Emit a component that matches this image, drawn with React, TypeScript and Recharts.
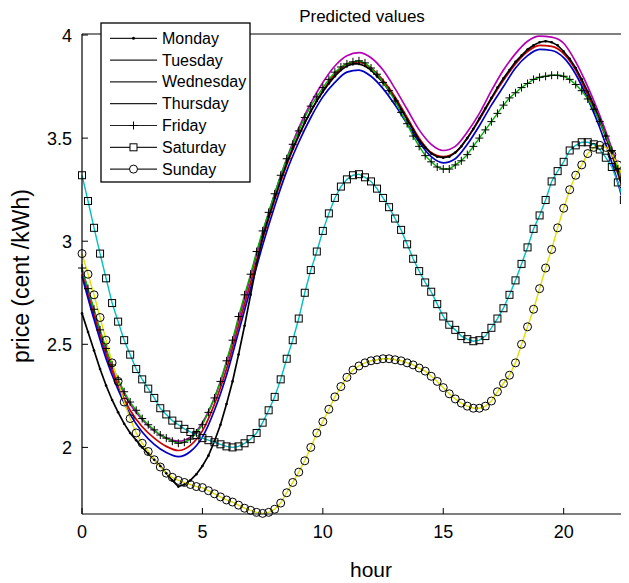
import React from "react";
import { LineChart, Line, XAxis, YAxis, Label } from "recharts";

// quarter-hour grid (series drawn with markers)
const hoursQ = [
  0, 0.25, 0.5, 0.75, 1, 1.25, 1.5, 1.75, 2, 2.25, 2.5, 2.75, 3, 3.25, 3.5, 3.75,
  4, 4.25, 4.5, 4.75, 5, 5.25, 5.5, 5.75, 6, 6.25, 6.5, 6.75, 7, 7.25, 7.5, 7.75,
  8, 8.25, 8.5, 8.75, 9, 9.25, 9.5, 9.75, 10, 10.25, 10.5, 10.75, 11, 11.25, 11.5, 11.75,
  12, 12.25, 12.5, 12.75, 13, 13.25, 13.5, 13.75, 14, 14.25, 14.5, 14.75, 15, 15.25, 15.5, 15.75,
  16, 16.25, 16.5, 16.75, 17, 17.25, 17.5, 17.75, 18, 18.25, 18.5, 18.75, 19, 19.25, 19.5, 19.75,
  20, 20.25, 20.5, 20.75, 21, 21.25, 21.5, 21.75, 22, 22.25, 22.5, 22.75,
];

// half-hour grid (plain lines)
const hoursH = [
  0, 0.5, 1, 1.5, 2, 2.5, 3, 3.5, 4, 4.5, 5, 5.5, 6, 6.5, 7, 7.5, 8, 8.5, 9, 9.5,
  10, 10.5, 11, 11.5, 12, 12.5, 13, 13.5, 14, 14.5, 15, 15.5, 16, 16.5, 17, 17.5,
  18, 18.5, 19, 19.5, 20, 20.5, 21, 21.5, 22, 22.5, 23,
];

const monday = [
  2.65, 2.56, 2.47, 2.38, 2.3, 2.23, 2.17, 2.115, 2.07, 2.035, 2.0, 1.97, 1.94, 1.91, 1.875, 1.84,
  1.81, 1.82, 1.84, 1.87, 1.91, 1.96, 2.03, 2.11, 2.21, 2.32, 2.45, 2.59, 2.74, 2.89, 3.02, 3.12,
  3.21, 3.3, 3.38, 3.45, 3.515, 3.575, 3.63, 3.68, 3.725, 3.765, 3.8, 3.83, 3.85, 3.86, 3.86, 3.85,
  3.83, 3.8, 3.77, 3.73, 3.69, 3.64, 3.59, 3.54, 3.49, 3.455, 3.425, 3.41, 3.405, 3.41, 3.43, 3.46,
  3.5, 3.545, 3.595, 3.645, 3.695, 3.745, 3.79, 3.83, 3.87, 3.9, 3.93, 3.95, 3.965, 3.97, 3.965, 3.95,
  3.92, 3.885, 3.84, 3.785, 3.725, 3.66, 3.59, 3.51, 3.43, 3.34, 3.245, 3.15,
];

const tuesday = [
  2.86, 2.66, 2.47, 2.32, 2.21, 2.135, 2.08, 2.045, 2.03, 2.05, 2.12, 2.24, 2.41, 2.62, 2.83, 3.04,
  3.23, 3.4, 3.55, 3.67, 3.77, 3.85, 3.9, 3.915, 3.89, 3.83, 3.74, 3.64, 3.54, 3.47, 3.44, 3.46,
  3.53, 3.62, 3.73, 3.83, 3.91, 3.97, 3.995, 3.99, 3.96, 3.87, 3.75, 3.61, 3.45, 3.27, 3.07,
];

const wednesday = [
  2.84, 2.64, 2.45, 2.3, 2.18, 2.1, 2.045, 2.005, 1.985, 2.01, 2.08, 2.21, 2.38, 2.59, 2.8, 3.01,
  3.2, 3.37, 3.51, 3.63, 3.73, 3.81, 3.86, 3.87, 3.84, 3.78, 3.7, 3.6, 3.5, 3.43, 3.41, 3.43,
  3.5, 3.59, 3.69, 3.78, 3.86, 3.92, 3.95, 3.945, 3.91, 3.83, 3.71, 3.58, 3.42, 3.23, 3.02,
];

const thursday = [
  2.83, 2.62, 2.43, 2.28, 2.16, 2.075, 2.015, 1.975, 1.955, 1.98, 2.05, 2.18, 2.35, 2.56, 2.77, 2.98,
  3.17, 3.34, 3.48, 3.6, 3.7, 3.77, 3.82, 3.83, 3.8, 3.74, 3.66, 3.57, 3.48, 3.41, 3.38, 3.4,
  3.47, 3.56, 3.66, 3.75, 3.84, 3.9, 3.93, 3.925, 3.89, 3.81, 3.69, 3.55, 3.38, 3.18, 2.96,
];

const friday = [
  2.87, 2.77, 2.67, 2.57, 2.48, 2.4, 2.33, 2.27, 2.22, 2.18, 2.14, 2.11, 2.085, 2.06, 2.045, 2.03,
  2.02, 2.025, 2.04, 2.07, 2.11, 2.17, 2.24, 2.32, 2.42, 2.52, 2.635, 2.74, 2.84, 2.95, 3.05, 3.14,
  3.23, 3.32, 3.4, 3.47, 3.535, 3.6, 3.655, 3.7, 3.745, 3.785, 3.82, 3.845, 3.86, 3.87, 3.875, 3.865,
  3.84, 3.81, 3.77, 3.73, 3.68, 3.625, 3.57, 3.51, 3.46, 3.415, 3.385, 3.36, 3.35, 3.35, 3.37, 3.39,
  3.42, 3.46, 3.5, 3.54, 3.58, 3.62, 3.66, 3.695, 3.72, 3.745, 3.765, 3.785, 3.795, 3.8, 3.805, 3.805,
  3.8, 3.785, 3.76, 3.73, 3.69, 3.64, 3.58, 3.51, 3.44, 3.35, 3.26, 3.17,
];

const saturday = [
  3.32, 3.195, 3.065, 2.94, 2.82, 2.7, 2.61, 2.52, 2.45, 2.38, 2.33, 2.285, 2.24, 2.19, 2.16, 2.13,
  2.11, 2.09, 2.075, 2.06, 2.045, 2.035, 2.025, 2.015, 2.005, 2.0, 2.005, 2.02, 2.04, 2.07, 2.12, 2.18,
  2.245, 2.33, 2.43, 2.52, 2.625, 2.75, 2.86, 2.95, 3.05, 3.135, 3.21, 3.265, 3.3, 3.32, 3.325, 3.31,
  3.29, 3.255, 3.21, 3.165, 3.11, 3.055, 2.985, 2.915, 2.855, 2.8, 2.755, 2.695, 2.635, 2.595, 2.57, 2.54,
  2.525, 2.515, 2.52, 2.54, 2.58, 2.625, 2.675, 2.74, 2.81, 2.89, 2.97, 3.06, 3.125, 3.2, 3.29, 3.34,
  3.385, 3.44, 3.465, 3.48, 3.48, 3.47, 3.445, 3.405, 3.36, 3.285, 3.2, 3.11,
];

const sunday = [
  2.94, 2.84, 2.74, 2.63, 2.52, 2.41, 2.32, 2.22, 2.14, 2.07, 2.02, 1.98, 1.94, 1.905, 1.875, 1.855,
  1.84, 1.83, 1.82, 1.81, 1.805, 1.79, 1.775, 1.76, 1.745, 1.735, 1.72, 1.705, 1.695, 1.685, 1.68, 1.685,
  1.7, 1.73, 1.78, 1.83, 1.88, 1.935, 2.0, 2.07, 2.125, 2.185, 2.245, 2.295, 2.34, 2.375, 2.395, 2.41,
  2.42, 2.425, 2.43, 2.43, 2.425, 2.42, 2.41, 2.4, 2.385, 2.37, 2.345, 2.32, 2.29, 2.26, 2.235, 2.215,
  2.2, 2.19, 2.19, 2.2, 2.225, 2.27, 2.31, 2.35, 2.41, 2.5, 2.585, 2.67, 2.77, 2.87, 2.96, 3.065,
  3.16, 3.25, 3.32, 3.37, 3.425, 3.455, 3.465, 3.455, 3.42, 3.37, 3.3, 3.21,
];

const xTicks = [0, 5, 10, 15, 20];
const yTicks = [2, 2.5, 3, 3.5, 4];
const dayNames = ["Monday", "Tuesday", "Wednesday", "Thursday", "Friday", "Saturday", "Sunday"];

const FONT = "'Liberation Sans', Arial, Helvetica, sans-serif";

const rows = (xs: number[], ys: number[]) => xs.map((h, i) => ({ h, v: ys[i] }));

function BottomTick(props: any) {
  const { x, y, payload } = props;
  return (
    <g>
      <line x1={x} y1={y} x2={x} y2={y - 6} stroke="#000" />
      <text x={x} y={y + 24} textAnchor="middle" fontSize={18} fontFamily={FONT} fill="#000">
        {payload.value}
      </text>
    </g>
  );
}

function TopTick(props: any) {
  const { x, y } = props;
  return <line x1={x} y1={y} x2={x} y2={y + 6} stroke="#000" />;
}

function LeftTick(props: any) {
  const { x, y, payload } = props;
  return (
    <g>
      <line x1={x} y1={y} x2={x + 6} y2={y} stroke="#000" />
      <text x={x - 10} y={y + 6.5} textAnchor="end" fontSize={18} fontFamily={FONT} fill="#000">
        {payload.value}
      </text>
    </g>
  );
}

const smallDot = (p: any) => <circle key={`m${p.index}`} cx={p.cx} cy={p.cy} r={1.3} fill="#000" />;
const plusDot = (p: any) => (
  <path key={`f${p.index}`} d={`M${p.cx - 4},${p.cy}h8M${p.cx},${p.cy - 4}v8`} stroke="#000" strokeWidth={1} fill="none" />
);
const squareDot = (p: any) => (
  <rect key={`s${p.index}`} x={p.cx - 3.5} y={p.cy - 3.5} width={7} height={7} stroke="#000" strokeWidth={1} fill="none" />
);
const circleDot = (p: any) => (
  <circle key={`c${p.index}`} cx={p.cx} cy={p.cy} r={4} stroke="#000" strokeWidth={1} fill="none" />
);

function LegendMarker({ i, x, y }: { i: number; x: number; y: number }) {
  if (i === 0) return <circle cx={x} cy={y} r={1.5} fill="#000" />;
  if (i === 4) return <path d={`M${x - 4},${y}h8M${x},${y - 4}v8`} stroke="#000" />;
  if (i === 5) return <rect x={x - 3.5} y={y - 3.5} width={7} height={7} stroke="#000" fill="#fff" />;
  if (i === 6) return <circle cx={x} cy={y} r={4} stroke="#000" fill="#fff" />;
  return null;
}

export default function App() {
  return (
    <div style={{ position: "relative", width: 621, height: 575, overflowX: "clip", overflowY: "visible" }}>
      <LineChart width={652} height={576} margin={{ top: 25, right: 0, bottom: 0, left: 0 }}>
        <XAxis
          dataKey="h"
          type="number"
          domain={[0, 24]}
          ticks={xTicks}
          interval={0}
          height={70}
          tickSize={0}
          tickMargin={0}
          tickLine={false}
          tick={<BottomTick />}
          axisLine={{ stroke: "#000", strokeWidth: 1.2 }}
        >
          <Label value="hour" position="insideBottom" offset={7} fontSize={21} fontFamily={FONT} fill="#000" />
        </XAxis>
        <XAxis
          xAxisId="top"
          orientation="top"
          dataKey="h"
          type="number"
          domain={[0, 24]}
          ticks={xTicks}
          interval={0}
          height={1}
          tickSize={0}
          tickMargin={0}
          tickLine={false}
          tick={<TopTick />}
          axisLine={{ stroke: "#000", strokeWidth: 1.2 }}
        />
        <YAxis
          type="number"
          domain={[1.677, 4.005]}
          ticks={yTicks}
          interval={0}
          width={74}
          tickSize={0}
          tickMargin={0}
          tickLine={false}
          tick={<LeftTick />}
          axisLine={{ stroke: "#000", strokeWidth: 1.2 }}
        />
        <Line data={rows(hoursH, tuesday)} dataKey="v" type="monotone" stroke="#b400b4" strokeWidth={1.7} dot={false} isAnimationActive={false} />
        <Line data={rows(hoursH, wednesday)} dataKey="v" type="monotone" stroke="#c80000" strokeWidth={1.7} dot={false} isAnimationActive={false} />
        <Line data={rows(hoursH, thursday)} dataKey="v" type="monotone" stroke="#0000c0" strokeWidth={1.7} dot={false} isAnimationActive={false} />
        <Line data={rows(hoursQ, monday)} dataKey="v" type="linear" stroke="#000" strokeWidth={1.7} dot={smallDot} isAnimationActive={false} />
        <Line data={rows(hoursQ, friday)} dataKey="v" type="linear" stroke="#00b000" strokeWidth={1.4} dot={plusDot} isAnimationActive={false} />
        <Line data={rows(hoursQ, saturday)} dataKey="v" type="linear" stroke="#00c0c0" strokeWidth={1.4} dot={squareDot} isAnimationActive={false} />
        <Line data={rows(hoursQ, sunday)} dataKey="v" type="linear" stroke="#e0e000" strokeWidth={1.4} dot={circleDot} isAnimationActive={false} />
      </LineChart>

      <svg width={621} height={575} style={{ position: "absolute", left: 0, top: 0, overflow: "visible", pointerEvents: "none" }}>
        <text x={354} y={14} textAnchor="middle" fontSize={17} fontFamily={FONT} fill="#000">
          Predicted values
        </text>
        <text
          transform="translate(21,268) rotate(-90)"
          textAnchor="middle"
          fontSize={23}
          fontFamily={FONT}
          fill="#000"
        >
          price (cent /kWh)
        </text>
        <g transform="translate(93,15)">
          <rect x={0} y={0} width={149} height={159} fill="#fff" stroke="#000" strokeWidth={1.3} />
          {dayNames.map((d, i) => {
            const cy = 15.3 + i * 21.8;
            return (
              <g key={d}>
                <line x1={9} y1={cy} x2={56} y2={cy} stroke="#222" strokeWidth={1.2} />
                <LegendMarker i={i} x={32.5} y={cy} />
                <text x={61} y={cy + 5.5} fontSize={16} fontFamily={FONT} fill="#000">
                  {d}
                </text>
              </g>
            );
          })}
        </g>
      </svg>
    </div>
  );
}
